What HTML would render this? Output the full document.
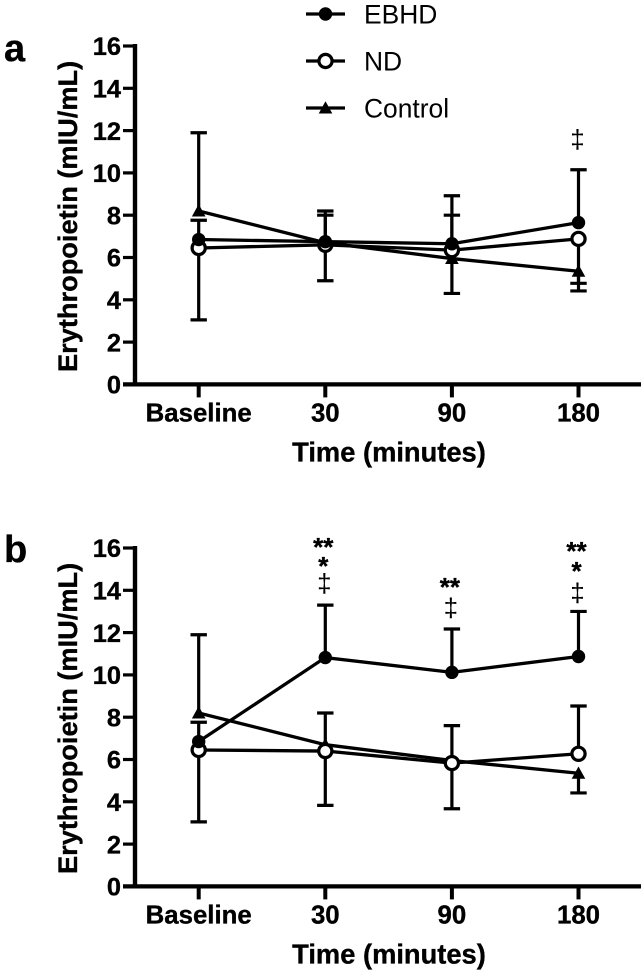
<!DOCTYPE html>
<html lang="en">
<head>
<meta charset="utf-8">
<title>Erythropoietin over time</title>
<style>
html,body{margin:0;padding:0;background:#fff;width:644px;height:973px;overflow:hidden}
svg{display:block;font-family:"Liberation Sans",sans-serif}
.heavy{stroke:#000;stroke-width:.35px}
</style>
</head>
<body>
<svg id="chart" width="644" height="973" viewBox="0 0 644 973" xmlns="http://www.w3.org/2000/svg"></svg>
<script>
// ---- data ----
var categories = ['Baseline', '30', '90', '180'];
var yTicks = [0, 2, 4, 6, 8, 10, 12, 14, 16];
var legendLabels = ['EBHD', 'ND', 'Control'];

var aEbhd = [6.85, 6.75, 6.65, 7.65];
var aNd = [6.45, 6.6, 6.35, 6.88];
var aControl = [8.2, 6.7, 5.95, 5.35];
var aEbhdUpper = [7.76, 8.2, 8.92, 10.15];
var aNdLower = [3.05, 4.9, 4.3, 4.78];
var aControlUpper = [11.9, 8.0, 8.0, null];
var aControlLower = [null, null, null, 4.42];
var aNdUpper = [null, null, null, null];

var bEbhd = [6.85, 10.82, 10.12, 10.87];
var bNd = [6.45, 6.4, 5.83, 6.27];
var bControl = [8.2, 6.7, 5.95, 5.35];
var bEbhdUpper = [7.76, 13.3, 12.17, 13.0];
var bNdLower = [3.05, 3.83, 3.67, null];
var bNdUpper = [null, 8.2, 7.6, 8.53];
var bControlUpper = [11.9, null, null, null];
var bControlLower = [null, null, null, 4.42];

var aNoteSymbols = ['‡'];
var aNoteCategory = [3];
var aNoteValues = [11.5];
var bNoteSymbols = ['**', '*', '‡', '**', '‡', '**', '*', '‡'];
var bNoteCategory = [1, 1, 1, 2, 2, 3, 3, 3];
var bNoteValues = [16.2, 15.3, 14.25, 14.3, 13.1, 16.0, 15.05, 13.8];

// ---- helpers ----
var svg = document.getElementById('chart');
var NS = 'http://www.w3.org/2000/svg';
var X_FIRST = 198.7, X_STEP = 126.6, AXIS_X = 135, AXIS_END = 641, V_MAX = 16;

function xPos(i) { return X_FIRST + X_STEP * i; }

function make(tag, parent, attrs, name) {
  var el = document.createElementNS(NS, tag);
  for (var k in attrs) el.setAttribute(k, attrs[k]);
  
  
  parent.appendChild(el);
  return el;
}
function line(parent, x1, y1, x2, y2, w, name) {
  return make('line', parent, {x1: x1, y1: y1, x2: x2, y2: y2, stroke: '#000', 'stroke-width': w}, name);
}
function text(parent, x, y, str, size, weight, anchor, name) {
  var t = make('text', parent, {x: x, y: y, 'font-size': size, 'font-weight': weight, 'text-anchor': anchor, fill: '#000'}, name);
  if (weight === 'bold') t.setAttribute('class', 'heavy');
  t.textContent = str;
  return t;
}
function marker(parent, kind, x, y, name) {
  if (kind === 'EBHD') return make('circle', parent, {cx: x, cy: y, r: 6.7, fill: '#000'}, name);
  if (kind === 'ND') return make('circle', parent, {cx: x, cy: y, r: 6.6, fill: '#fff', stroke: '#000', 'stroke-width': 3.2}, name);
  return make('polygon', parent, {points: (x - 6.8) + ',' + (y + 5.5) + ' ' + x + ',' + (y - 6.8) + ' ' + (x + 6.8) + ',' + (y + 5.5), fill: '#000'}, name);
}

function drawPanel(p) {
  var g = make('g', svg, {}, 'panel-' + p.id);
  function yPos(v) { return p.y0 - (p.y0 - p.y16) * v / V_MAX; }

  text(g, 4, p.y16 + p.letterDy, p.id, 38, 'bold', 'start', 'panel-letter-' + p.id);

  // y axis
  line(g, AXIS_X, p.y16 - 2, AXIS_X, p.y0 + 2, 4.4, 'y-axis-' + p.id);
  yTicks.forEach(function (t) {
    line(g, 123, yPos(t), AXIS_X, yPos(t), 3.2, 'y-tick-' + p.id + '-' + t);
    text(g, 121, yPos(t) + 9.2, String(t), 25.4, 'bold', 'end', 'y-tick-label-' + p.id + '-' + t);
  });
  var yl = text(g, 0, 0, 'Erythropoietin (mIU/mL)', 27.2, 'bold', 'middle', 'y-axis-title-' + p.id);
  yl.setAttribute('transform', 'translate(77,' + (p.y0 - 168) + ') rotate(-90)');

  // x axis
  line(g, 123, p.y0, AXIS_END, p.y0, 4.2, 'x-axis-' + p.id);
  categories.forEach(function (c, i) {
    line(g, xPos(i), p.y0, xPos(i), p.y0 + 13, 4, 'x-tick-' + p.id + '-' + c);
    text(g, xPos(i), p.y0 + 37, c, 25.8, 'bold', 'middle', 'x-tick-label-' + p.id + '-' + c);
  });
  text(g, 389, p.y0 + 77, 'Time (minutes)', 27.3, 'bold', 'middle', 'x-axis-title-' + p.id);

  // error bars
  p.series.forEach(function (s) {
    [['upper', s.upper], ['lower', s.lower]].forEach(function (pair) {
      pair[1].forEach(function (v, i) {
        if (v === null) return;
        line(g, xPos(i), yPos(s.values[i]), xPos(i), yPos(v), 3.2, 'error-bar-' + s.kind.toLowerCase() + '-' + pair[0] + '-' + categories[i]);
        line(g, xPos(i) - 8.2, yPos(v), xPos(i) + 8.2, yPos(v), 3.2, 'error-cap-' + s.kind.toLowerCase() + '-' + pair[0] + '-' + categories[i]);
      });
    });
  });

  // series lines and markers (drawn back to front)
  p.series.forEach(function (s) {
    var pts = s.values.map(function (v, i) { return xPos(i) + ',' + yPos(v); }).join(' ');
    make('polyline', g, {points: pts, fill: 'none', stroke: '#000', 'stroke-width': 3.3}, 'series-line-' + s.kind.toLowerCase());
  });
  p.series.forEach(function (s) {
    s.values.forEach(function (v, i) {
      marker(g, s.kind, xPos(i), yPos(v), 'point-' + s.kind.toLowerCase() + '-' + categories[i]);
    });
  });

  // significance annotations
  p.noteSymbols.forEach(function (sym, i) {
    var isDagger = sym === '‡';
    var cy = yPos(p.noteValues[i]);
    text(g, xPos(p.noteCategory[i]) - (isDagger ? 1 : 2), cy + (isDagger ? 7 : 12), sym, isDagger ? 26 : 26, isDagger ? 'normal' : 'bold', 'middle', 'significance-mark-' + i);
  });
}

drawPanel({
  id: 'a', y16: 46, y0: 384.4, letterDy: 15,
  series: [
    {kind: 'Control', values: aControl, upper: aControlUpper, lower: aControlLower},
    {kind: 'ND', values: aNd, upper: aNdUpper, lower: aNdLower},
    {kind: 'EBHD', values: aEbhd, upper: aEbhdUpper, lower: [null, null, null, null]}
  ],
  noteSymbols: aNoteSymbols, noteCategory: aNoteCategory, noteValues: aNoteValues
});
drawPanel({
  id: 'b', y16: 548, y0: 886.4, letterDy: 14,
  series: [
    {kind: 'Control', values: bControl, upper: bControlUpper, lower: bControlLower},
    {kind: 'ND', values: bNd, upper: bNdUpper, lower: bNdLower},
    {kind: 'EBHD', values: bEbhd, upper: bEbhdUpper, lower: [null, null, null, null]}
  ],
  noteSymbols: bNoteSymbols, noteCategory: bNoteCategory, noteValues: bNoteValues
});

// legend
var legend = make('g', svg, {}, 'legend');
var legendKinds = ['EBHD', 'ND', 'Control'];
legendLabels.forEach(function (label, i) {
  var y = 14 + 47 * i;
  line(legend, 306, y, 345, y, 3.3, 'legend-line-' + legendKinds[i].toLowerCase());
  marker(legend, legendKinds[i], 325.5, y, 'legend-marker-' + legendKinds[i].toLowerCase());
  text(legend, 364, y + 9.5, label, 26.4, 'normal', 'start', 'legend-entry-' + legendKinds[i].toLowerCase());
});
</script>
</body>
</html>
